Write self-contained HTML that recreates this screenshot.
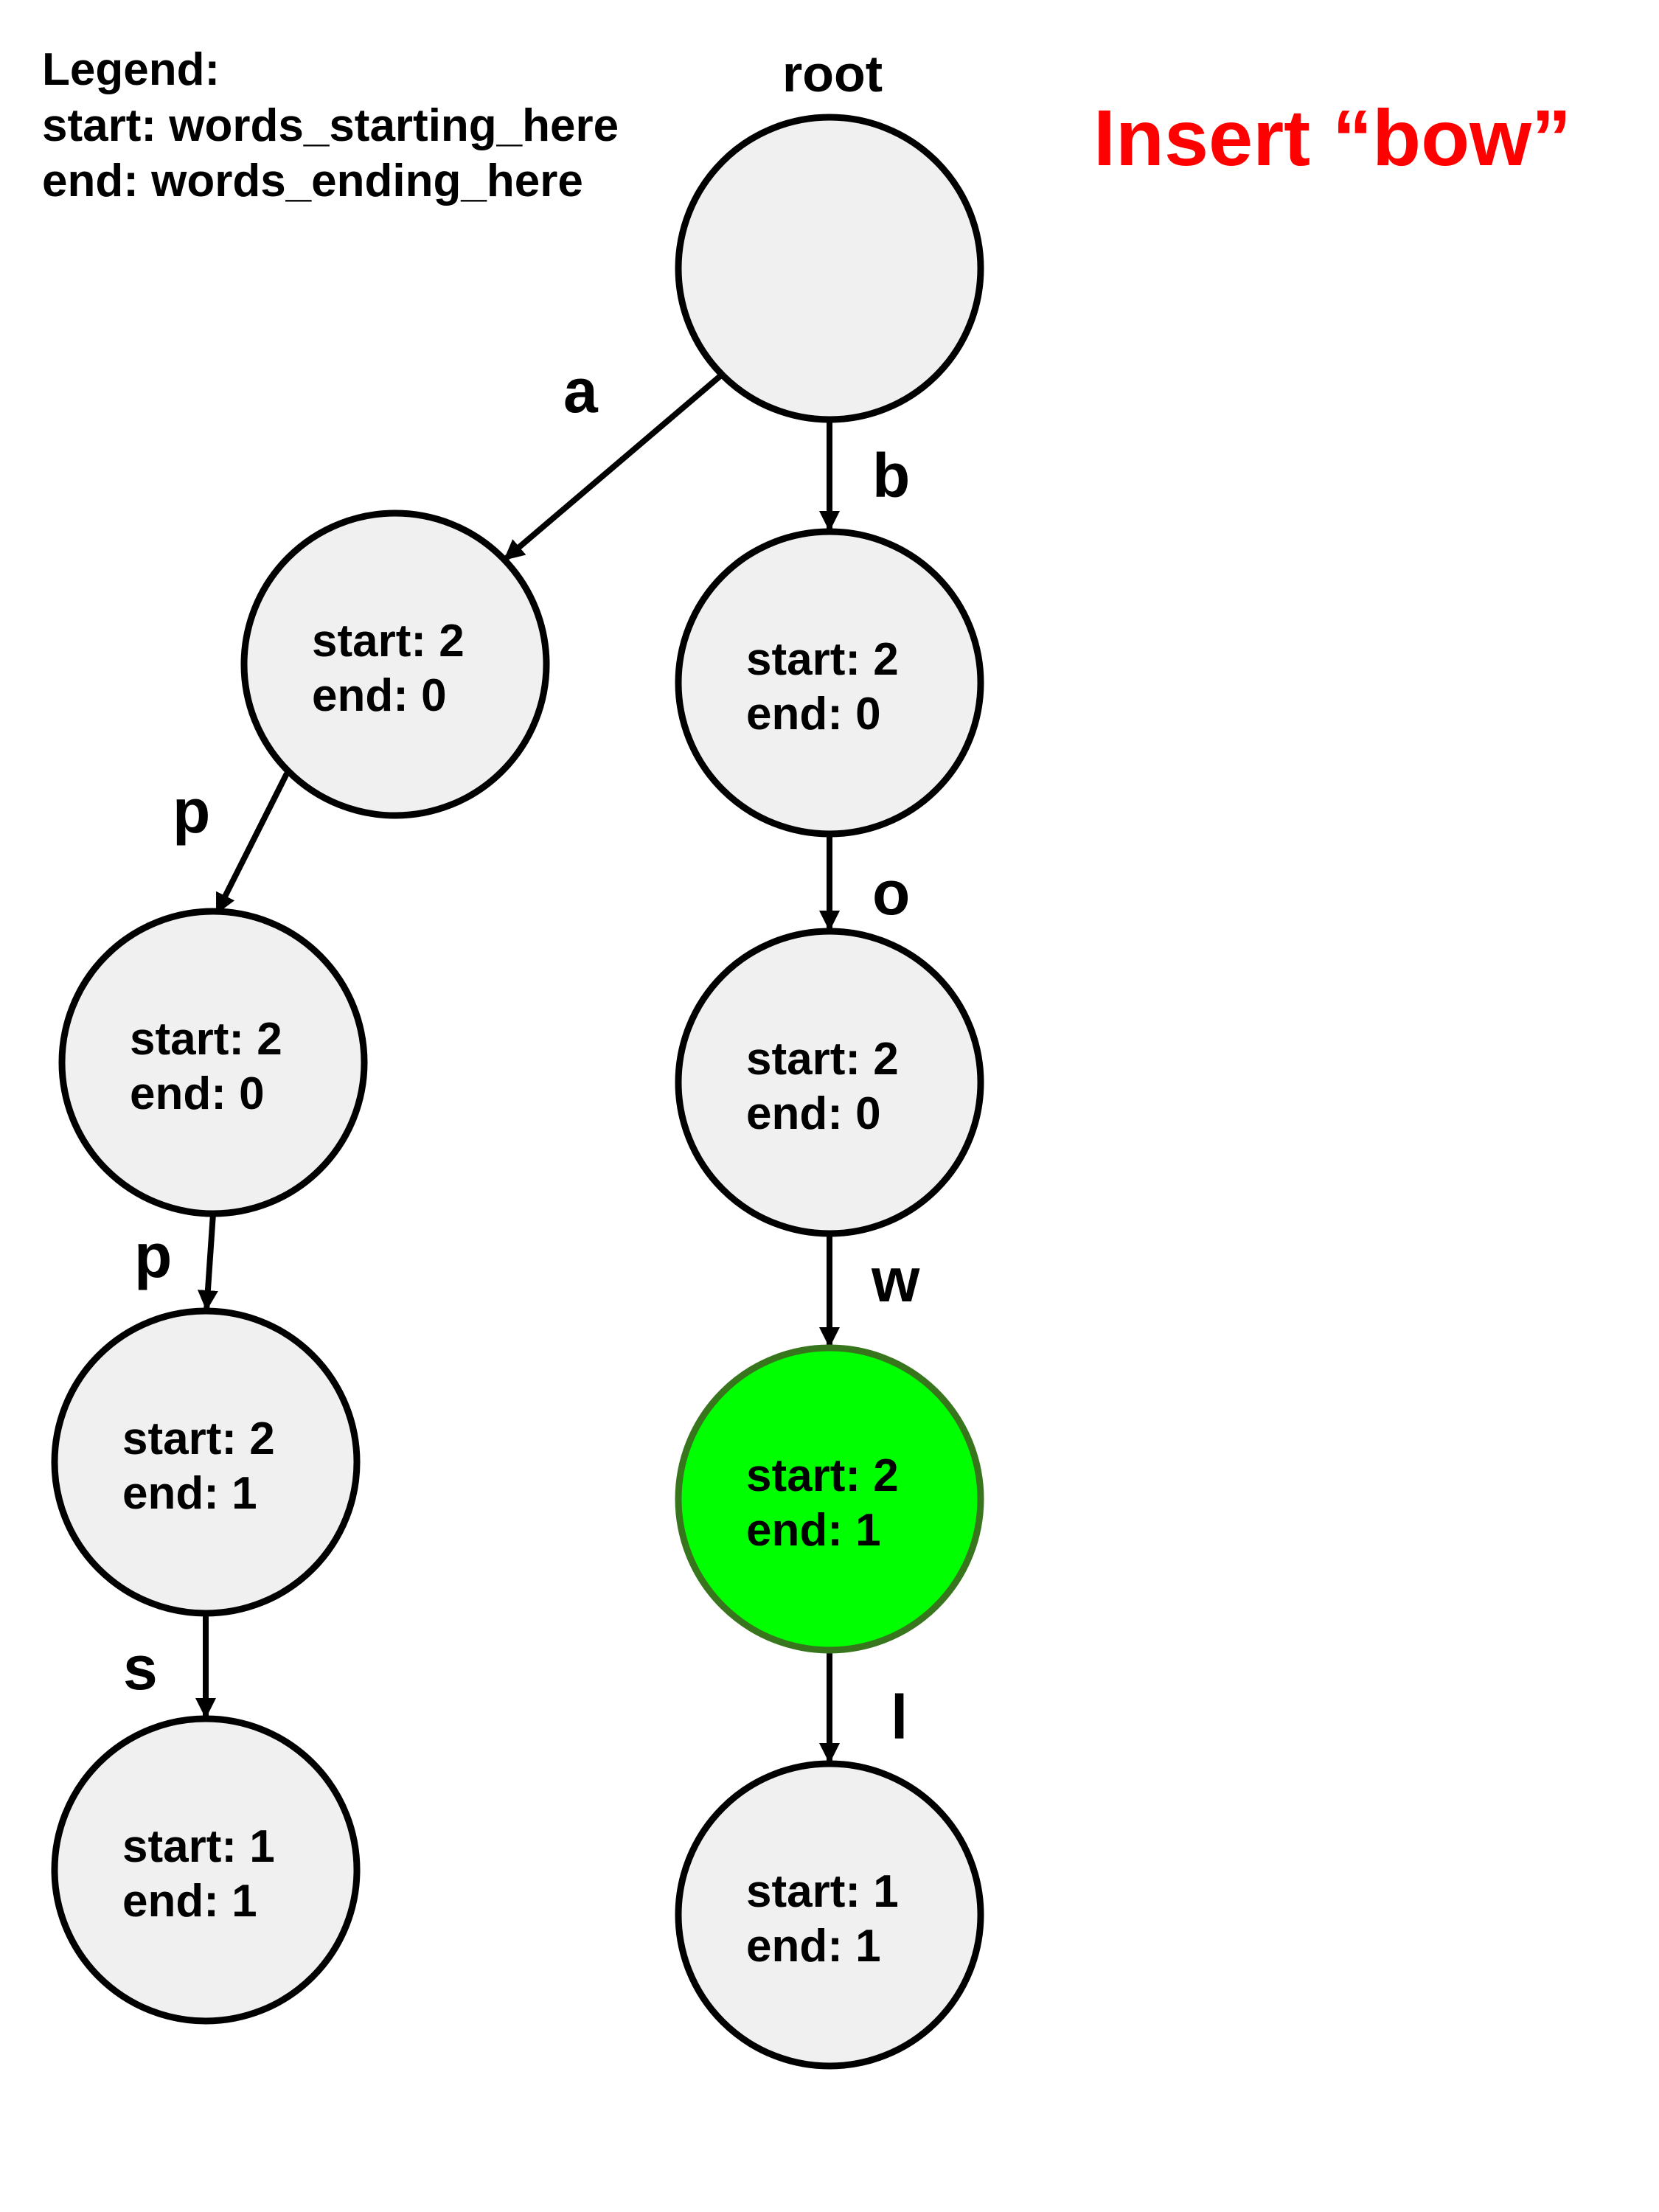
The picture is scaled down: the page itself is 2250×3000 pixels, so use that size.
<!DOCTYPE html>
<html><head><meta charset="utf-8"><style>
html,body{margin:0;padding:0;background:#fff}
svg{display:block}
text{font-family:"Liberation Sans",Arial,sans-serif;font-weight:bold}
</style></head><body>
<svg width="2250" height="3000" viewBox="0 0 2250 3000" xmlns="http://www.w3.org/2000/svg">
<defs>
<marker id="ah" markerWidth="28" markerHeight="28" viewBox="0 0 28 28" refX="28" refY="14" orient="auto" markerUnits="userSpaceOnUse">
<path d="M0,0 L28,14 L0,28 z" fill="#000"/>
</marker>
</defs>
<g font-size="62" fill="#000">
<text x="57" y="115">Legend:</text>
<text x="57" y="191">start: words_starting_here</text>
<text x="57" y="266">end: words_ending_here</text>
</g>
<text x="1129" y="124" font-size="70" text-anchor="middle">root</text>
<text x="1483" y="224" font-size="108" fill="#ff0000">Insert “bow”</text>

<g stroke="#000" stroke-width="8" fill="none" marker-end="url(#ah)">
<line x1="978" y1="509" x2="683" y2="760"/>
<line x1="1125" y1="569" x2="1125" y2="721"/>
<line x1="389" y1="1049" x2="293" y2="1240"/>
<line x1="1125" y1="1131" x2="1125" y2="1263"/>
<line x1="289" y1="1646" x2="280" y2="1778"/>
<line x1="1125" y1="1673" x2="1125" y2="1828"/>
<line x1="279" y1="2188" x2="279" y2="2331"/>
<line x1="1125" y1="2238" x2="1125" y2="2392"/>
</g>

<g stroke="#000" stroke-width="9" fill="#f0f0f0">
<circle cx="1125" cy="364" r="205"/>
<circle cx="536" cy="901" r="205"/>
<circle cx="1125" cy="926" r="205"/>
<circle cx="289" cy="1441" r="205"/>
<circle cx="1125" cy="1468" r="205"/>
<circle cx="279" cy="1983" r="205"/>
<circle cx="279" cy="2536" r="205"/>
<circle cx="1125" cy="2597" r="205"/>
</g>
<circle cx="1125" cy="2033" r="205" fill="#00ff00" stroke="#38761d" stroke-width="9"/>

<g font-size="62" fill="#000">
<text x="423" y="890">start: 2</text><text x="423" y="964">end: 0</text>
<text x="1012" y="915">start: 2</text><text x="1012" y="989">end: 0</text>
<text x="176" y="1430">start: 2</text><text x="176" y="1504">end: 0</text>
<text x="1012" y="1457">start: 2</text><text x="1012" y="1531">end: 0</text>
<text x="166" y="1972">start: 2</text><text x="166" y="2046">end: 1</text>
<text x="1012" y="2022">start: 2</text><text x="1012" y="2096">end: 1</text>
<text x="166" y="2525">start: 1</text><text x="166" y="2599">end: 1</text>
<text x="1012" y="2586">start: 1</text><text x="1012" y="2660">end: 1</text>
</g>

<g font-size="84" fill="#000">
<text x="764" y="559">a</text>
<text x="1183" y="674">b</text>
<text x="234" y="1129">p</text>
<text x="1183" y="1240">o</text>
<text x="182" y="1732">p</text>
<text x="1182" y="1765">w</text>
<text x="167" y="2291">s</text>
<text x="1208" y="2358">l</text>
</g>
</svg>
</body></html>
